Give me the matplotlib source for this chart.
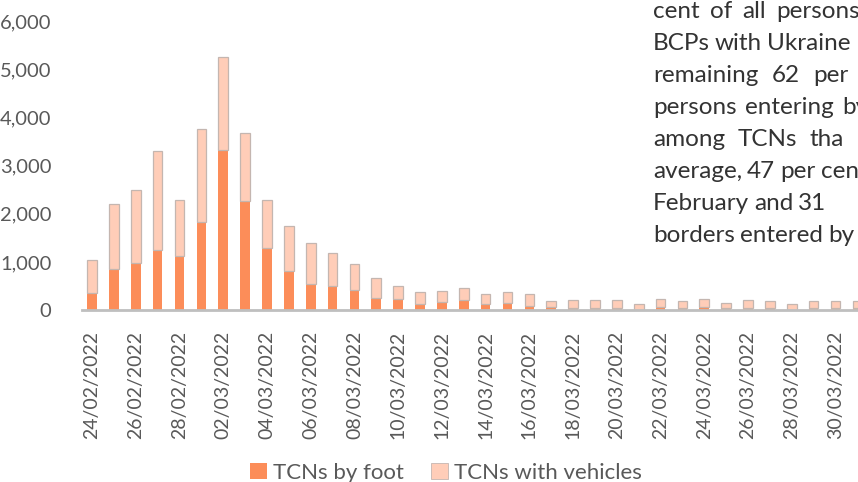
import matplotlib.pyplot as plt
import matplotlib.patches as patches
import numpy as np
import pandas as pd

plt.rcParams['font.family'] = ['Lato', 'DejaVu Sans']

# daily entries of third-country nationals, 24/02/2022 - 31/03/2022
dates = pd.date_range('2022-02-24', '2022-03-31', freq='D')
tcn_total = [1030, 2200, 2500, 3300, 2280, 3760, 5260, 3680, 2280, 1750,
             1400, 1190, 950, 660, 490, 380, 400, 465, 335, 365,
             335, 195, 200, 200, 200, 120, 225, 180, 225, 155,
             200, 180, 120, 180, 180, 180]
tcn_foot = [360, 850, 980, 1250, 1120, 1830, 3320, 2260, 1280, 820,
            550, 500, 420, 250, 220, 115, 170, 200, 115, 145,
            90, 60, 40, 40, 40, 5, 69, 40, 69, 35,
            40, 40, 5, 40, 40, 50]
tcn_vehicles = [t - f for t, f in zip(tcn_total, tcn_foot)]
x_labels = [d.strftime('%d/%m/%Y') for d in dates]
y_ticks = [0, 1000, 2000, 3000, 4000, 5000, 6000]

# cropped paragraph of the report to the right of the chart (justified)
side_text = [
    ['cent', 'of', 'all', 'persons'],
    ['BCPs', 'with', 'Ukraine'],
    ['remaining', '62', 'per'],
    ['persons', 'entering', 'by'],
    ['among', 'TCNs', 'tha'],
    ['average,', '47', 'per', 'cen'],
    ['February', 'and', '31'],
    ['borders', 'entered', 'by'],
]
# pixel x where the last word of each line starts (None = normal spacing)
last_word_x = [776, 767, 813, 842, 810, None, 777, None]

W, H = 858, 482
fig = plt.figure(figsize=(W / 100, H / 100), dpi=100)
ax = fig.add_axes([82 / W, 1 - 310 / H, 1 - 82 / W, (310 - 21.5) / H])

foot_col = '#FC8D59'
veh_col = '#FFCDB8'
txt_col = '#595959'

x = np.arange(len(dates))
ax.bar(x, tcn_foot, width=0.44, color=foot_col, edgecolor='none', zorder=2)
ax.bar(x, tcn_vehicles, width=0.44, bottom=tcn_foot, color=veh_col,
       edgecolor='#c4b6b0', linewidth=0.9, zorder=2)

ax.set_xlim(-0.46, 35.03)
ax.set_ylim(0, 6000)
ax.set_yticks(y_ticks)
ax.set_yticklabels([f'{v:,}' for v in y_ticks])
ax.set_xticks(x[::2])
ax.set_xticklabels(x_labels[::2], rotation=90)
ax.tick_params(axis='y', length=0, pad=22, labelsize=14.5, labelcolor=txt_col)
ax.tick_params(axis='x', length=0, pad=15, labelsize=14, labelcolor=txt_col)

for s in ['top', 'right', 'left']:
    ax.spines[s].set_visible(False)
ax.spines['bottom'].set_color('#bfbfbf')
ax.spines['bottom'].set_linewidth(2)

handles = [patches.Patch(facecolor=foot_col, edgecolor='none'),
           patches.Patch(facecolor=veh_col, edgecolor='#c4b6b0', linewidth=0.6)]
fig.legend(handles, ['TCNs by foot', 'TCNs with vehicles'], loc='center',
           bbox_to_anchor=(446 / W, 1 - 473 / H), ncol=2, frameon=False,
           fontsize=16, handlelength=0.75, handleheight=0.75,
           handletextpad=0.3, columnspacing=1.2, labelcolor=txt_col)

# side paragraph: words spread between left margin and last word position
fig.canvas.draw()
rend = fig.canvas.get_renderer()
left = 653
for i, (words, lx) in enumerate(zip(side_text, last_word_x)):
    yb = 18.3 + i * 31.9
    txts = [fig.text(0, 1 - yb / H, w, fontsize=17.5, color='#333333',
                     va='baseline', ha='left') for w in words]
    widths = [t.get_window_extent(rend).width for t in txts]
    if lx is None:
        gap = 5.0
    else:
        gap = max(5.0, (lx - left - sum(widths[:-1])) / (len(words) - 1))
    xp = left
    for t, wd in zip(txts, widths):
        t.set_x(xp / W)
        xp += wd + gap

fig.savefig('out.png', dpi=100)
